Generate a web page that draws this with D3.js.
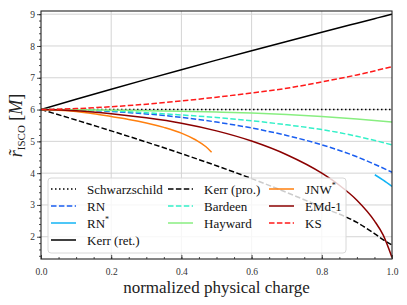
<!DOCTYPE html>
<html>
<head>
<meta charset="utf-8">
<script src="https://cdn.jsdelivr.net/npm/d3@7"></script>
<style>
  body { margin: 0; background: #fff; }
  svg text { font-family: 'Liberation Serif', 'DejaVu Serif', serif; }
</style>
</head>
<body>
<div id="chart"></div>
<script>
// values
var charge = [0, 0.1, 0.2, 0.3, 0.4, 0.5, 0.6, 0.7, 0.8, 0.9, 0.95, 1.0];
var schwarzschild = [6, 6, 6, 6, 6, 6, 6, 6, 6, 6, 6, 6];
var rn = [6, 5.985, 5.94, 5.863, 5.753, 5.607, 5.42, 5.185, 4.891, 4.514, 4.281, 4.03];

var chargeStar = [0.951, 0.975, 1.0];
var rnStar = [3.95, 3.78, 3.58];

var kerrCharge = [0, 0.1, 0.2, 0.3, 0.4, 0.5, 0.6, 0.7, 0.8, 0.9, 0.95, 0.98, 1.0];
var kerrRet = [6, 6.323, 6.639, 6.949, 7.254, 7.555, 7.851, 8.143, 8.432, 8.717, 8.859, 8.944, 9.0];
var kerrPro = [6, 5.67, 5.329, 4.979, 4.614, 4.233, 3.829, 3.393, 2.93, 2.45, 2.1, 1.87, 1.74];

var chargeTen = [0, 0.1, 0.2, 0.3, 0.4, 0.5, 0.6, 0.7, 0.8, 0.9, 1.0];
var bardeen = [6, 5.99, 5.96, 5.9, 5.83, 5.75, 5.65, 5.52, 5.37, 5.16, 4.89];
var hayward = [6, 5.995, 5.98, 5.965, 5.945, 5.92, 5.89, 5.845, 5.785, 5.705, 5.61];
var ks = [6, 6.03, 6.09, 6.17, 6.27, 6.39, 6.52, 6.67, 6.87, 7.09, 7.35];

var jnwCharge = [0, 0.05, 0.1, 0.15, 0.2, 0.25, 0.3, 0.35, 0.4, 0.44, 0.47, 0.486];
var jnw = [6, 5.98, 5.94, 5.87, 5.78, 5.69, 5.58, 5.44, 5.26, 5.05, 4.83, 4.66];

var emdCharge = [0, 0.1, 0.2, 0.3, 0.4, 0.5, 0.6, 0.7, 0.8, 0.85, 0.9, 0.95, 0.975, 1.0];
var emd = [6, 5.96, 5.87, 5.74, 5.57, 5.33, 5.01, 4.58, 4.0, 3.62, 3.15, 2.5, 2.05, 1.35];

var xTicks = [0, 0.2, 0.4, 0.6, 0.8, 1.0];
var yTicks = [2, 3, 4, 5, 6, 7, 8, 9];

function zip(xs, ys) {
  return xs.map(function(x, i) { return {q: x, r: ys[i]}; });
}

// draw order, legend goes column by column (4, 3, 3)
var series = [
  {label: "Schwarzschild", values: zip(charge, schwarzschild), color: "#000000", dash: "1.5,2.5"},
  {label: "RN", values: zip(charge, rn), color: "#1a5ef0", dash: "5.5,2.4"},
  {label: "RN", sup: "*", values: zip(chargeStar, rnStar), color: "#13b4f5", dash: null},
  {label: "Kerr (ret.)", values: zip(kerrCharge, kerrRet), color: "#000000", dash: null},
  {label: "Kerr (pro.)", values: zip(kerrCharge, kerrPro), color: "#000000", dash: "5.5,2.4"},
  {label: "Bardeen", values: zip(chargeTen, bardeen), color: "#33f0c8", dash: "5.5,2.4"},
  {label: "Hayward", values: zip(chargeTen, hayward), color: "#88ee80", dash: null},
  {label: "JNW", sup: "*", values: zip(jnwCharge, jnw), color: "#ff7f0e", dash: null},
  {label: "EMd-1", values: zip(emdCharge, emd), color: "#8b0000", dash: null},
  {label: "KS", values: zip(chargeTen, ks), color: "#ff1a1a", dash: "5.5,2.4"}
];

var width = 407, height = 305;
var margin = {top: 11, right: 15, bottom: 46, left: 41};
var w = width - margin.left - margin.right,
  h = height - margin.top - margin.bottom;

var x = d3.scaleLinear().domain([0, 1]).range([0, w]);
var y = d3.scaleLinear().domain([1.3, 9.1]).range([h, 0]);

var svg = d3.select("#chart").append("svg")
  .attr("width", width)
  .attr("height", height);

var g = svg.append("g")
  .attr("transform", "translate(" + margin.left + "," + margin.top + ")");

g.append("defs").append("clipPath")
  .attr("id", "clip")
  .append("rect")
  .attr("width", w)
  .attr("height", h);

// grid
g.append("g").selectAll("line").data(xTicks.slice(1, -1)).enter()
  .append("line")
  .attr("x1", function(d) { return x(d); })
  .attr("x2", function(d) { return x(d); })
  .attr("y1", 0).attr("y2", h)
  .attr("stroke", "#d4d4d4").attr("stroke-width", 1);
g.append("g").selectAll("line").data(yTicks).enter()
  .append("line")
  .attr("y1", function(d) { return y(d); })
  .attr("y2", function(d) { return y(d); })
  .attr("x1", 0).attr("x2", w)
  .attr("stroke", "#d4d4d4").attr("stroke-width", 1);

var line = d3.line()
  .curve(d3.curveMonotoneX)
  .x(function(d) { return x(d.q); })
  .y(function(d) { return y(d.r); });

g.append("g")
  .attr("clip-path", "url(#clip)")
  .selectAll("path").data(series).enter()
  .append("path")
  .attr("d", function(d) { return line(d.values); })
  .attr("fill", "none")
  .attr("stroke", function(d) { return d.color; })
  .attr("stroke-width", 1.5)
  .attr("stroke-dasharray", function(d) { return d.dash; });

// axes
var xAxis = g.append("g")
  .attr("transform", "translate(0," + h + ")")
  .call(d3.axisBottom(x).tickValues(xTicks).tickFormat(d3.format(".1f")).tickSize(-4).tickPadding(9));
var xMinor = g.append("g")
  .attr("transform", "translate(0," + h + ")")
  .call(d3.axisBottom(x).tickValues(d3.range(0.05, 1, 0.05)).tickFormat("").tickSize(-2));
var yAxis = g.append("g")
  .call(d3.axisLeft(y).tickValues(yTicks).tickFormat(d3.format("d")).tickSize(4).tickPadding(2));
var yMinor = g.append("g")
  .call(d3.axisLeft(y).tickValues(d3.range(1.4, 9.1, 0.2)).tickFormat("").tickSize(2));

[xAxis, xMinor, yAxis, yMinor].forEach(function(a) {
  a.attr("font-family", null);
  a.select(".domain").remove();
  a.selectAll("line").attr("stroke", "#222").attr("stroke-width", 0.8);
  a.selectAll("text").attr("font-size", 9.5).attr("fill", "#333");
});

g.append("rect")
  .attr("width", w).attr("height", h)
  .attr("fill", "none")
  .attr("stroke", "#222")
  .attr("stroke-width", 1.1);

// legend
var legend = g.append("g").attr("transform", "translate(7,167)");
legend.append("rect")
  .attr("width", 298).attr("height", 75)
  .attr("rx", 3)
  .attr("fill", "#ffffff").attr("fill-opacity", 0.8)
  .attr("stroke", "#d8d8d8");

var colX = [3, 120, 221];
var item = legend.selectAll(".item").data(series).enter()
  .append("g")
  .attr("class", "item")
  .attr("transform", function(d, i) {
    var c = i < 4 ? 0 : (i < 7 ? 1 : 2);
    var r = i < 4 ? i : (i < 7 ? i - 4 : i - 7);
    return "translate(" + colX[c] + "," + (11 + r * 17) + ")";
  });
item.append("line")
  .attr("x1", 0).attr("x2", 25)
  .attr("stroke", function(d) { return d.color; })
  .attr("stroke-width", 1.5)
  .attr("stroke-dasharray", function(d) { return d.dash; });
var lt = item.append("text")
  .attr("x", 36).attr("y", 4.5)
  .attr("font-size", 13)
  .attr("fill", "#111");
lt.append("tspan").text(function(d) { return d.label; });
lt.filter(function(d) { return d.sup; }).append("tspan")
  .attr("font-size", 8).attr("dy", -6)
  .text(function(d) { return d.sup; });

// axis labels
svg.append("text")
  .attr("x", margin.left + w / 2).attr("y", 293)
  .attr("text-anchor", "middle")
  .attr("font-size", 17)
  .attr("fill", "#222")
  .text("normalized physical charge");

var yl = svg.append("text")
  .attr("transform", "translate(22," + (margin.top + y(5.5)) + ") rotate(-90)")
  .attr("text-anchor", "middle")
  .attr("font-size", 18)
  .attr("fill", "#222");
yl.append("tspan").attr("font-style", "italic").text("r\u0303");
yl.append("tspan").attr("font-size", 11).attr("dy", 3).text("ISCO");
yl.append("tspan").attr("dy", -3).text(" [");
yl.append("tspan").attr("font-style", "italic").text("M");
yl.append("tspan").text("]");
</script>
</body>
</html>
